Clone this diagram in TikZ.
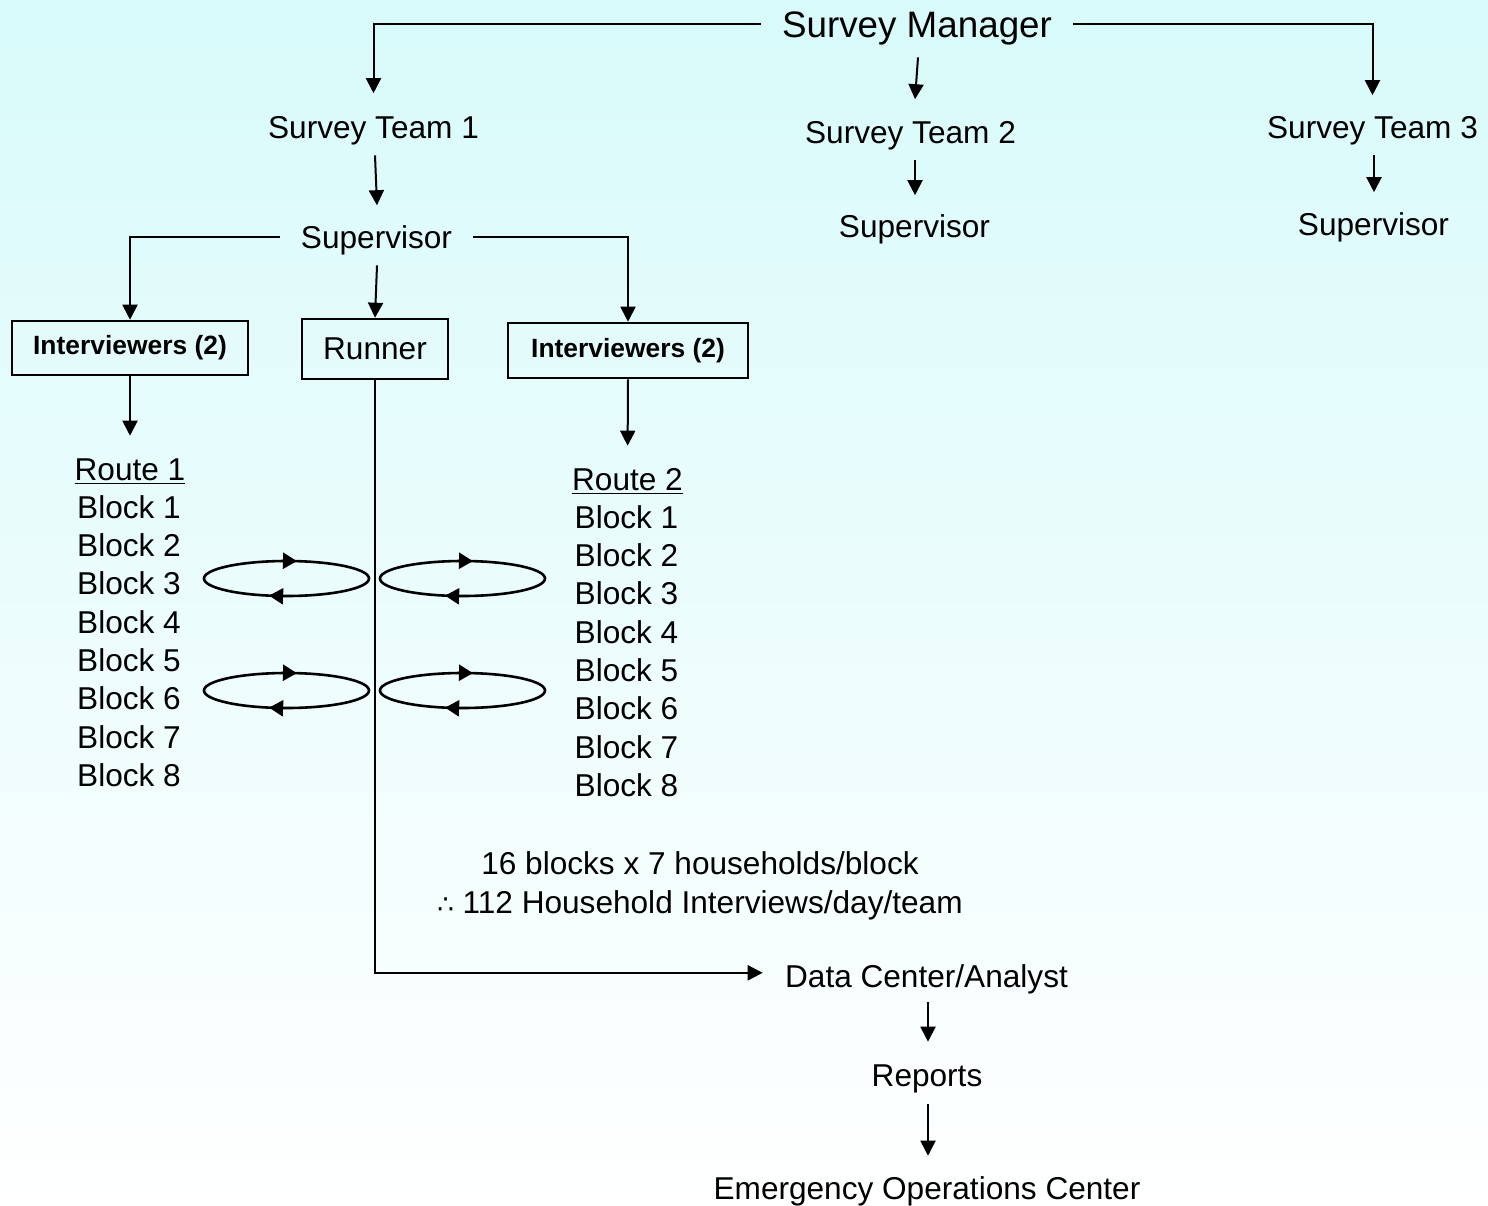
\documentclass[tikz,border=0pt]{standalone}
\usepackage{fontspec}
\setmainfont{Liberation Sans}
\newfontfamily\dejavu{DejaVu Sans}
\usetikzlibrary{arrows.meta,decorations.markings}
\definecolor{bgtop}{RGB}{216,250,250}
\begin{document}
\begin{tikzpicture}[x=0.5pt,y=-0.5pt,
  txt/.style={inner sep=0pt, font=\fontsize{15.8pt}{19pt}\selectfont, text height=11.2pt, text depth=0pt, anchor=base},
  big/.style={txt, font=\fontsize{18.4pt}{22pt}\selectfont, text height=13.2pt},
  box/.style={draw, line width=1.3pt, inner sep=0pt, anchor=center},
  arr/.style={line width=1pt, -{Triangle[length=7.5pt,width=7.5pt]}},
  cyc/.style={line width=1.3pt, postaction={decorate},
    decoration={markings,
      mark=at position 0.30 with {\arrow{Triangle[length=7pt,width=8pt]}},
      mark=at position 0.78 with {\arrow{Triangle[length=7pt,width=8pt]}}}}
]
% background
\fill[top color=bgtop, bottom color=white] (0,0) rectangle (1488,1205);
\useasboundingbox (0,0) rectangle (1488,1205);

% nodes
\node[big, inner xsep=10.5pt] (sm) at (917,37) {Survey Manager};
\node[txt] (t1) at (373.5,138) {Survey Team 1};
\node[txt] (t2) at (910.5,143) {Survey Team 2};
\node[txt] (t3) at (1372.5,138) {Survey Team 3};
\node[txt, inner xsep=10.5pt] (sup1) at (376.5,248) {Supervisor};
\node[txt] (sup2) at (914.5,237) {Supervisor};
\node[txt] (sup3) at (1373.5,235) {Supervisor};

\node[box, minimum width=118pt, minimum height=27pt, font=\fontsize{13.2pt}{16pt}\selectfont\bfseries] (ib1) at (130,348) {Interviewers (2)};
\node[box, minimum width=73pt, minimum height=30pt, font=\fontsize{15.8pt}{19pt}\selectfont] (run) at (375,349) {Runner};
\node[box, minimum width=120pt, minimum height=27.5pt, font=\fontsize{13.2pt}{16pt}\selectfont\bfseries] (ib2) at (628,350.5) {Interviewers (2)};

\node[txt] (r1) at (130,480) {\underline{Route 1}};
\node[txt] (r2) at (627.5,490) {\underline{Route 2}};
\foreach \i in {1,...,8} {
  \node[txt] (la\i) at (129,{480+38.3*\i}) {Block \i};
  \node[txt] (ra\i) at (626.5,{490+38.3*\i}) {Block \i};
}

\node[txt] (n1) at (700,874) {16 blocks x 7 households/block};
\node[txt] (n2) at (700,913) {{\dejavu\fontsize{13pt}{16pt}\selectfont ∴} 112 Household Interviews/day/team};

\node[txt] (dc) at (926.5,987) {Data Center/Analyst};
\node[txt] (rep) at (927,1086) {Reports};
\node[txt] (eoc) at (927,1199) {Emergency Operations Center};

% connectors
\draw[arr, shorten >=11pt] (sm.west) -| (t1.north);
\draw[arr, shorten >=10pt] (sm.east) -| (t3.north);
\draw[arr] ([shift={(0.5pt,-10pt)}]sm.south) -- ([shift={(2.25pt,10.5pt)}]t2.north);
\draw[arr] ([shift={(0.75pt,-8.5pt)}]t1.south) -- ([shift={(0.25pt,10pt)}]sup1.north);
\draw[arr] ([shift={(2.25pt,-8.5pt)}]t2.south) -- ([shift={(0.25pt,9.5pt)}]sup2.north);
\draw[arr] ([shift={(0.75pt,-8.5pt)}]t3.south) -- ([shift={(0.25pt,10pt)}]sup3.north);

\draw[arr] (sup1.west) -| (ib1.north);
\draw[arr] (sup1.east) -| (ib2.north);
\draw[arr] ([shift={(0.25pt,-8.5pt)}]sup1.south) -- (run.north);

\draw[arr, shorten >=10.75pt] (ib1.south) -- (r1.north);
\draw[arr, shorten >=10.75pt] (ib2.south) -- (r2.north);

\draw[arr] (run.south) |- ([shift={(-11pt,1.5pt)}]dc.west);
\draw[arr, shorten <=7.5pt, shorten >=10.75pt] ([xshift=0.75pt]dc.south) -- ([xshift=0.5pt]rep.north);
\draw[arr, shorten <=9pt, shorten >=10.25pt] ([xshift=0.5pt]rep.south) -- ([xshift=0.5pt]eoc.north);

% exchange loops
\draw[cyc] (286.5,578.5) ellipse [x radius=82.5, y radius=17.5];
\draw[cyc] (462.5,578.5) ellipse [x radius=82.5, y radius=17.5];
\draw[cyc] (286.5,690.5) ellipse [x radius=82.5, y radius=17.5];
\draw[cyc] (462.5,690.5) ellipse [x radius=82.5, y radius=17.5];
\end{tikzpicture}
\end{document}
